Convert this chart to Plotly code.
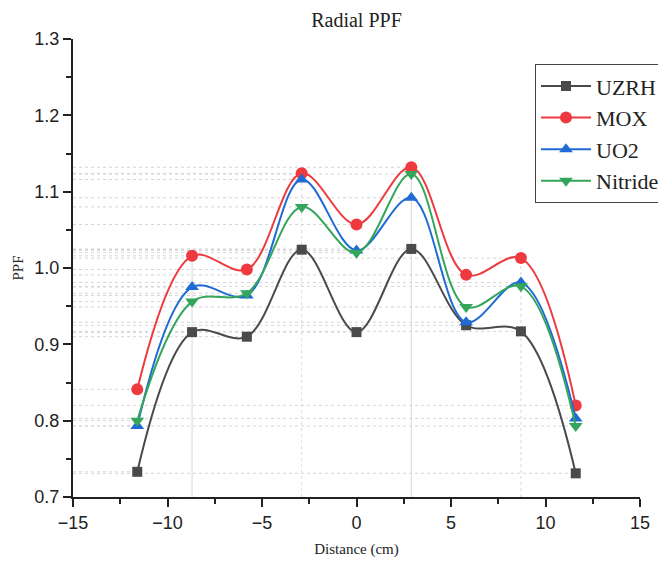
import plotly.graph_objects as go

distance = [-11.6, -8.7, -5.8, -2.9, 0.0, 2.9, 5.8, 8.7, 11.6]

uzrh = [0.733, 0.916, 0.910, 1.024, 0.916, 1.025, 0.925, 0.917, 0.731]
mox = [0.841, 1.016, 0.998, 1.124, 1.057, 1.132, 0.991, 1.013, 0.820]
uo2 = [0.793, 0.975, 0.964, 1.116, 1.023, 1.092, 0.929, 0.981, 0.803]
nitride = [0.800, 0.956, 0.967, 1.080, 1.020, 1.123, 0.949, 0.976, 0.793]

series_names = ["UZRH", "MOX", "UO2", "Nitride"]
series_values = [uzrh, mox, uo2, nitride]
series_colors = ["#4a4a4a", "#ee3a3f", "#1f6bd6", "#34a65b"]
series_symbols = ["square", "circle", "triangle-up", "triangle-down"]
series_sizes = [10, 12, 12, 12]

# indices of points with vertical drop lines
vdrop_idx = [1, 3, 5, 7]
vdrop_dash = ["solid", "dot", "solid", "dot"]

x_tick_vals = [-15, -10, -5, 0, 5, 10, 15]
y_tick_vals = [0.7, 0.8, 0.9, 1.0, 1.1, 1.2, 1.3]

fig = go.Figure()

shapes = []
# horizontal drop lines from y-axis to each point
for vals in series_values:
    for xv, yv in zip(distance, vals):
        shapes.append(dict(type="line", xref="x", yref="y", x0=-15, x1=xv, y0=yv, y1=yv,
                           line=dict(color="#d6d6d6", width=1, dash="dot"), layer="below"))
# vertical drop lines
for i, d in zip(vdrop_idx, vdrop_dash):
    top = max(v[i] for v in series_values)
    shapes.append(dict(type="line", xref="x", yref="y", x0=distance[i], x1=distance[i], y0=0.7, y1=top,
                       line=dict(color="#d8d8d8", width=1, dash=d), layer="below"))

for name, vals, col, sym, sz in zip(series_names, series_values, series_colors, series_symbols, series_sizes):
    fig.add_trace(go.Scatter(
        x=distance, y=vals, name=name, mode="lines+markers",
        line=dict(color=col, width=2, shape="spline", smoothing=1.0),
        marker=dict(symbol=sym, size=sz, color=col),
    ))

axis_font = dict(family="Liberation Sans, Arial, sans-serif", size=18, color="#222")
serif = "Liberation Serif, Times New Roman, serif"
fig.update_layout(
    width=666, height=562,
    margin=dict(l=65, r=34, t=31, b=73, autoexpand=False),
    paper_bgcolor="white", plot_bgcolor="white",
    title=dict(text="Radial PPF", x=0.5, xref="paper", y=1 - 12 / 562, yref="container",
               xanchor="center", yanchor="middle",
               font=dict(family=serif, size=20, color="#222")),
    shapes=shapes,
    legend=dict(x=0.8148, y=0.945, xanchor="left", yanchor="top",
                bgcolor="white", bordercolor="#444", borderwidth=1,
                font=dict(family=serif, size=22, color="#222"),
                itemwidth=50, tracegroupgap=0),
    xaxis=dict(range=[-15, 15], tickvals=x_tick_vals, showgrid=False, zeroline=False,
               showline=True, linecolor="#222", linewidth=2, ticks="outside", ticklen=8,
               tickwidth=2, tickcolor="#222", tickfont=axis_font,
               minor=dict(dtick=2.5, ticks="outside", ticklen=5, tickwidth=2, tickcolor="#222", showgrid=False),
               title=dict(text="Distance (cm)", standoff=12,
                          font=dict(family=serif, size=15, color="#222"))),
    yaxis=dict(range=[0.7, 1.3], tickvals=y_tick_vals, tickformat=".1f", showgrid=False, zeroline=False,
               showline=True, linecolor="#222", linewidth=2, ticks="outside", ticklen=8,
               tickwidth=2, tickcolor="#222", tickfont=axis_font,
               minor=dict(dtick=0.05, ticks="outside", ticklen=5, tickwidth=2, tickcolor="#222", showgrid=False),
               title=dict(text="PPF", standoff=7,
                          font=dict(family=serif, size=15, color="#222"))),
)

fig.write_html("out.html")
